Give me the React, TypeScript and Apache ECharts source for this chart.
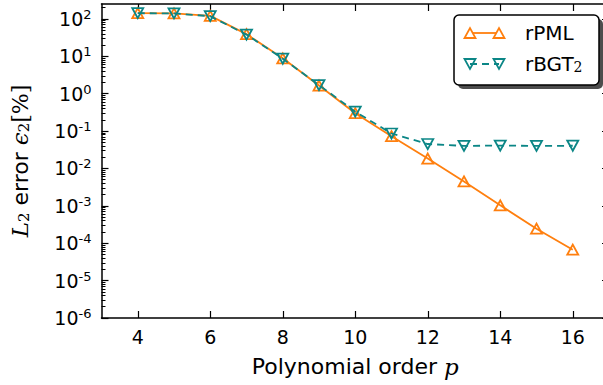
import React, { useEffect, useRef } from "react";
import * as echarts from "echarts";

const pOrder = [4, 5, 6, 7, 8, 9, 10, 11, 12, 13, 14, 15, 16];
const rPML = [142, 140, 120, 39, 8.8, 1.65, 0.3, 0.073, 0.0184, 0.0045, 0.00103, 0.000245, 0.000067];
const rBGT2 = [142, 140, 118, 38, 8.6, 1.7, 0.33, 0.086, 0.045, 0.04, 0.041, 0.04, 0.0405];
const xTicks = [4, 6, 8, 10, 12, 14, 16];
const yMajorTicks = [1e-6, 1e-5, 1e-4, 1e-3, 1e-2, 1e-1, 1, 10, 100];
const yMinorTicks: number[] = [];
yMajorTicks.forEach((d) => {
  for (let k = 2; k <= 9; k++) {
    const v = d * k;
    if (v <= 250) yMinorTicks.push(v);
  }
});

const ORANGE = "#ff7f0e";
const TEAL = "#0b8686";
const FONT = "DejaVu Sans";
const MATH = "DejaVu Serif";

export default function App() {
  const ref = useRef<HTMLDivElement>(null);
  useEffect(() => {
    if (!ref.current) return;
    const chart = echarts.init(ref.current, undefined, { renderer: "svg" });
    const common = { min: 3, max: 17, type: "value" as const, splitLine: { show: false } };
    const yCommon = { type: "log" as const, min: 1e-6, max: 250, logBase: 10, splitLine: { show: false } };
    const legendX = 454, legendY = 15, legendW = 145, legendH = 70;
    chart.setOption({
      animation: false,
      grid: { left: 101.5, right: -6, top: 4, bottom: 67, containLabel: false, outerBoundsMode: "none" },
      xAxis: [
        {
          ...common,
          position: "bottom",
          axisLine: { lineStyle: { color: "#000", width: 1.5 } },
          axisTick: { inside: true, length: 7, customValues: xTicks, lineStyle: { color: "#000", width: 1.2 } },
          axisLabel: { customValues: xTicks, color: "#000", fontSize: 19, fontFamily: FONT, margin: 9 },
          name: "{a|Polynomial order }{i|p}",
          nameLocation: "middle",
          nameGap: 37,
          nameTextStyle: {
            rich: {
              a: { fontSize: 22, fontFamily: FONT, color: "#000" },
              i: { fontSize: 23, fontFamily: MATH, fontStyle: "italic", color: "#000" },
            },
          },
        },
        {
          ...common,
          position: "top",
          axisLine: { lineStyle: { color: "#000", width: 1.5 } },
          axisTick: { inside: true, length: 7, customValues: xTicks, lineStyle: { color: "#000", width: 1.2 } },
          axisLabel: { show: false },
        },
      ],
      yAxis: [
        {
          ...yCommon,
          position: "left",
          axisLine: { show: true, lineStyle: { color: "#000", width: 1.5 } },
          axisTick: { inside: true, length: 7, customValues: yMajorTicks, lineStyle: { color: "#000", width: 1.2 } },
          axisLabel: {
            customValues: yMajorTicks,
            margin: 10,
            formatter: (v: number) => `{b|10}{e|${Math.round(Math.log10(v))}}`,
            rich: {
              b: { fontSize: 19, fontFamily: FONT, color: "#000", lineHeight: 22 },
              e: { fontSize: 13, fontFamily: FONT, color: "#000", verticalAlign: "top", lineHeight: 14 },
            },
          },
          name: "{i|L}{s|2}{a| error }{i|ϵ}{s|2}{m|[%]}",
          nameLocation: "middle",
          nameRotate: 90,
          nameGap: 70,
          nameTextStyle: {
            rich: {
              a: { fontSize: 22, fontFamily: FONT, color: "#000" },
              i: { fontSize: 23, fontFamily: MATH, fontStyle: "italic", color: "#000" },
              s: { fontSize: 15, fontFamily: MATH, color: "#000", verticalAlign: "bottom" },
              m: { fontSize: 22, fontFamily: MATH, color: "#000" },
            },
          },
        },
        {
          ...yCommon,
          position: "left",
          axisLine: { show: false },
          axisTick: { inside: true, length: 4, customValues: yMinorTicks, lineStyle: { color: "#000", width: 1 } },
          axisLabel: { show: false },
        },
        {
          ...yCommon,
          position: "right",
          axisLine: { show: true, lineStyle: { color: "#000", width: 1.5 } },
          axisTick: { inside: true, length: 7, customValues: yMajorTicks, lineStyle: { color: "#000", width: 1.2 } },
          axisLabel: { show: false },
        },
      ],
      series: [
        {
          name: "rPML",
          type: "line",
          xAxisIndex: 0,
          yAxisIndex: 0,
          data: pOrder.map((p, i) => [p, rPML[i]]),
          symbol: "triangle",
          symbolSize: [11, 10],
          showAllSymbol: true,
          lineStyle: { color: ORANGE, width: 1.8 },
          itemStyle: { color: "rgba(255,255,255,0)", borderColor: ORANGE, borderWidth: 1.8 },
          z: 2,
        },
        {
          name: "rBGT2",
          type: "line",
          xAxisIndex: 0,
          yAxisIndex: 0,
          data: pOrder.map((p, i) => [p, rBGT2[i]]),
          symbol: "triangle",
          symbolRotate: 180,
          symbolSize: [11, 10],
          showAllSymbol: true,
          lineStyle: { color: TEAL, width: 1.8, type: [7, 5] },
          itemStyle: { color: "rgba(255,255,255,0)", borderColor: TEAL, borderWidth: 1.8 },
          z: 3,
        },
      ],
      graphic: [
        {
          type: "rect",
          shape: { x: legendX + 4, y: legendY + 4, width: legendW, height: legendH, r: 5 },
          style: { fill: "#4d4d4d" },
          z: 10,
        },
        {
          type: "rect",
          shape: { x: legendX, y: legendY, width: legendW, height: legendH, r: 5 },
          style: { fill: "#fff", stroke: "#000", lineWidth: 1.5 },
          z: 11,
        },
        {
          type: "line",
          shape: { x1: 470, y1: 33, x2: 499, y2: 33 },
          style: { stroke: ORANGE, lineWidth: 1.8 },
          z: 12,
        },
        {
          type: "polygon",
          shape: { points: [[464.5, 38], [475.5, 38], [470, 28]] },
          style: { fill: "#fff", stroke: ORANGE, lineWidth: 1.8 },
          z: 13,
        },
        {
          type: "polygon",
          shape: { points: [[493.5, 38], [504.5, 38], [499, 28]] },
          style: { fill: "#fff", stroke: ORANGE, lineWidth: 1.8 },
          z: 13,
        },
        {
          type: "line",
          shape: { x1: 470, y1: 64, x2: 499, y2: 64 },
          style: { stroke: TEAL, lineWidth: 1.8, lineDash: [7, 5] },
          z: 12,
        },
        {
          type: "polygon",
          shape: { points: [[464.5, 59], [475.5, 59], [470, 69]] },
          style: { fill: "rgba(255,255,255,0)", stroke: TEAL, lineWidth: 1.8 },
          z: 13,
        },
        {
          type: "polygon",
          shape: { points: [[493.5, 59], [504.5, 59], [499, 69]] },
          style: { fill: "rgba(255,255,255,0)", stroke: TEAL, lineWidth: 1.8 },
          z: 13,
        },
        {
          type: "text",
          x: 525,
          y: 33,
          style: { text: "rPML", fontSize: 20, fontFamily: FONT, fill: "#000", verticalAlign: "middle" },
          z: 13,
        },
        {
          type: "text",
          x: 525,
          y: 64,
          style: {
            text: "{a|rBGT}{s|2}",
            verticalAlign: "middle",
            rich: {
              a: { fontSize: 20, fontFamily: FONT, fill: "#000", color: "#000" },
              s: { fontSize: 14, fontFamily: MATH, fill: "#000", color: "#000", verticalAlign: "bottom" },
            },
          },
          z: 13,
        },
      ],
    });
    return () => chart.dispose();
  }, []);
  return <div ref={ref} style={{ width: 603, height: 385, position: "absolute", left: 0, top: 0 }} />;
}
